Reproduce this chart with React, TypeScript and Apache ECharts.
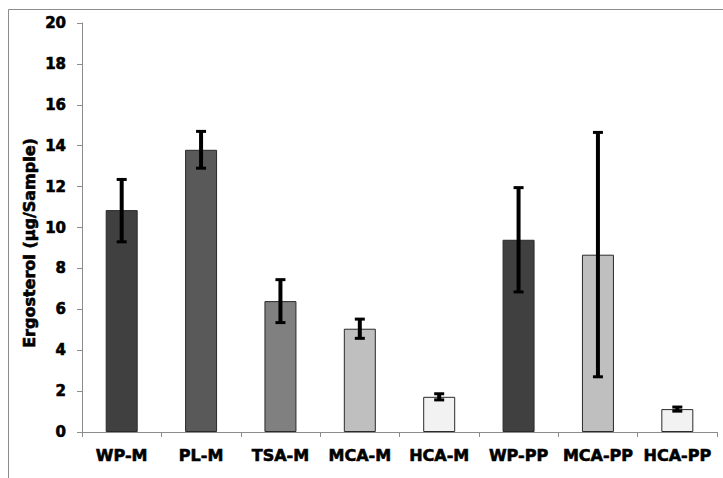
import React, { useEffect, useRef } from "react";
import * as echarts from "echarts";

const categories = ["WP-M", "PL-M", "TSA-M", "MCA-M", "HCA-M", "WP-PP", "MCA-PP", "HCA-PP"];
const means = [10.85, 13.8, 6.4, 5.05, 1.72, 9.4, 8.67, 1.12];
const errLow = [9.3, 12.9, 5.35, 4.58, 1.57, 6.85, 2.7, 1.02];
const errHigh = [12.35, 14.7, 7.45, 5.52, 1.87, 11.95, 14.65, 1.22];
const barColors = ["#404040", "#595959", "#808080", "#bfbfbf", "#f2f2f2", "#404040", "#bfbfbf", "#f2f2f2"];
const yTicks = { min: 0, max: 20, interval: 2 };
const yTitle = "Ergosterol (µg/Sample)";

const FONT = "DejaVu Sans";
const heavy = { color: "#000", fontFamily: FONT, fontWeight: "bold", textBorderColor: "#000", textBorderWidth: 0.6 };

export default function App() {
  const ref = useRef<HTMLDivElement>(null);
  useEffect(() => {
    if (!ref.current) return;
    const chart = echarts.init(ref.current, undefined, { renderer: "svg" });
    const errData = categories.map((_, i) => [i, errLow[i], errHigh[i]]);
    chart.setOption({
      animation: false,
      backgroundColor: "#ffffff",
      grid: { left: 82, right: 6, top: 23, bottom: 46 },
      graphic: [
        {
          type: "rect",
          shape: { x: 8.5, y: 9.5, width: 900, height: 700 },
          style: { fill: "none", stroke: "#8c8c8c", lineWidth: 1 },
          silent: true,
        },
        {
          type: "text",
          x: 29,
          y: 243,
          rotation: Math.PI / 2,
          style: {
            text: yTitle,
            fill: "#000",
            font: `bold 16px "${FONT}"`,
            align: "center",
            verticalAlign: "middle",
            stroke: "#000",
            lineWidth: 0.6,
          },
          silent: true,
        },
      ],
      xAxis: {
        type: "category",
        data: categories,
        axisLine: { lineStyle: { color: "#8c8c8c", width: 1 } },
        axisTick: { show: true, length: 5, alignWithLabel: false, lineStyle: { color: "#8c8c8c" } },
        axisLabel: { ...heavy, fontSize: 16, margin: 15, interval: 0 },
        splitLine: { show: false },
      },
      yAxis: {
        type: "value",
        min: yTicks.min,
        max: yTicks.max,
        interval: yTicks.interval,
        axisLine: { show: true, lineStyle: { color: "#8c8c8c", width: 1 } },
        axisTick: { show: true, length: 5, lineStyle: { color: "#8c8c8c" } },
        axisLabel: { ...heavy, fontSize: 15, margin: 16 },
        splitLine: { show: false },
      },
      series: [
        {
          type: "bar",
          barWidth: 32,
          data: means.map((v, i) => ({
            value: v,
            itemStyle: { color: barColors[i], borderColor: "#2a2a2a", borderWidth: 1 },
          })),
          z: 2,
        },
        {
          type: "custom",
          z: 5,
          data: errData,
          renderItem: (params: any, api: any) => {
            const x = api.value(0);
            const lo = api.coord([x, api.value(1)]);
            const hi = api.coord([x, api.value(2)]);
            const cap = 5;
            const style = { stroke: "#000", lineWidth: 4 };
            return {
              type: "group",
              children: [
                { type: "line", shape: { x1: lo[0], y1: lo[1], x2: hi[0], y2: hi[1] }, style },
                { type: "line", shape: { x1: hi[0] - cap, y1: hi[1], x2: hi[0] + cap, y2: hi[1] }, style: { stroke: "#000", lineWidth: 3 } },
                { type: "line", shape: { x1: lo[0] - cap, y1: lo[1], x2: lo[0] + cap, y2: lo[1] }, style: { stroke: "#000", lineWidth: 3 } },
              ],
            };
          },
        },
      ],
    });
    return () => chart.dispose();
  }, []);
  return <div ref={ref} style={{ position: "fixed", left: 0, top: 0, width: 723, height: 478 }} />;
}
